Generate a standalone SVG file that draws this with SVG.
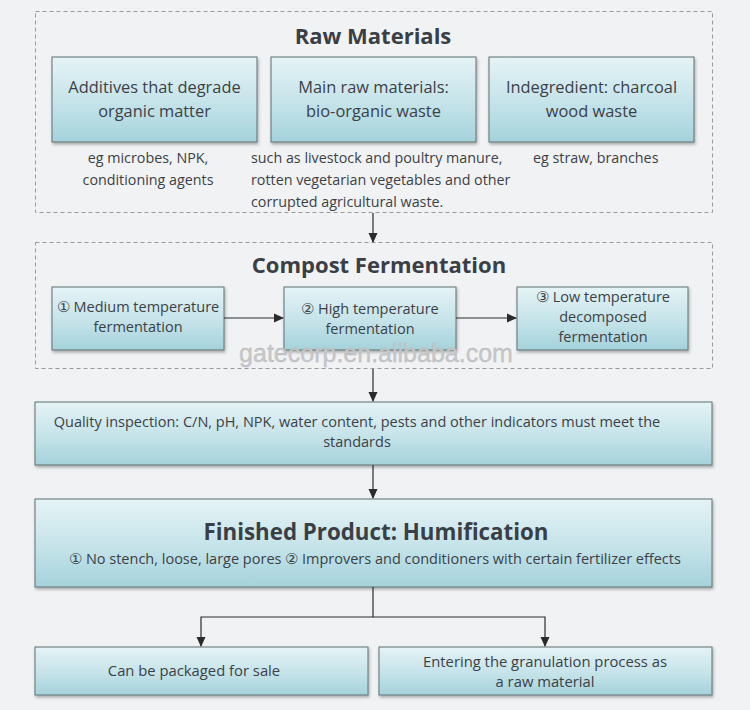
<svg xmlns="http://www.w3.org/2000/svg" width="750" height="710" viewBox="0 0 750 710">
<defs>
  <linearGradient id="boxg" x1="0" y1="0" x2="0" y2="1">
    <stop offset="0" stop-color="#e5f3f6"/>
    <stop offset="0.55" stop-color="#c4e3e9"/>
    <stop offset="1" stop-color="#a5d2db"/>
  </linearGradient>
  <filter id="sh" x="-5%" y="-10%" width="110%" height="130%">
    <feDropShadow dx="1" dy="2" stdDeviation="1.5" flood-color="#000" flood-opacity="0.3"/>
  </filter>
  <marker id="arr" markerWidth="10" markerHeight="10" refX="9" refY="5" orient="auto" markerUnits="userSpaceOnUse">
    <path d="M0,0.5 L10,5 L0,9.5 Z" fill="#2b2b2b"/>
  </marker>
  <style>
    .box { fill: url(#boxg); stroke: #5d7073; stroke-width: 1; filter: url(#sh); }
    .grp { fill: none; stroke: #9a9a9a; stroke-width: 1; stroke-dasharray: 4 3; }
    .title { font-family: "Open Sans", "Noto Sans", sans-serif; font-weight: bold; font-size: 22px; fill: #3a3e45; text-anchor: middle; }
    .t16 { font-family: "Open Sans", "Noto Sans", sans-serif; font-size: 16.4px; fill: #3c4147; text-anchor: middle; }
    .t14 { font-family: "Open Sans", "Noto Sans", sans-serif; font-size: 14.3px; fill: #3c4147; }
    .t15 { font-family: "Open Sans", "Noto Sans", sans-serif; font-size: 14.5px; fill: #3c4147; text-anchor: middle; }
    .t15b { font-size: 14.8px; }
    .c { text-anchor: middle; }
    .wm { font-family: "Liberation Sans", Arial, sans-serif; font-size: 25px; fill: #c6c8ca; stroke: #b4b6b8; stroke-width: 0.3; text-anchor: middle; }
    .line { fill: none; stroke: #2b2b2b; stroke-width: 1.2; }
  </style>
</defs>
<rect x="0" y="0" width="750" height="710" fill="#f1f2f4"/>

<g id="raw-materials">
  <rect class="grp" x="35.5" y="11.5" width="677" height="201"/>
  <text class="title" x="373" y="44">Raw Materials</text>
</g>
<g id="additives">
  <rect class="box" x="52" y="57" width="205" height="85"/>
  <text class="t16" x="154.5" y="93">Additives that degrade</text>
  <text class="t16" x="154.5" y="117">organic matter</text>
  <text class="t14 c" x="148" y="163">eg microbes, NPK,</text>
  <text class="t14 c" x="148" y="185">conditioning agents</text>
</g>
<g id="main-raw">
  <rect class="box" x="271" y="57" width="205" height="85"/>
  <text class="t16" x="373.5" y="93">Main raw materials:</text>
  <text class="t16" x="373.5" y="117">bio-organic waste</text>
  <text class="t14" x="251" y="163">such as livestock and poultry manure,</text>
  <text class="t14" x="251" y="185">rotten vegetarian vegetables and other</text>
  <text class="t14" x="251" y="207">corrupted agricultural waste.</text>
</g>
<g id="indegredient">
  <rect class="box" x="489" y="57" width="205" height="85"/>
  <text class="t16" x="591.5" y="93">Indegredient: charcoal</text>
  <text class="t16" x="591.5" y="117">wood waste</text>
  <text class="t14" x="533" y="163">eg straw, branches</text>
</g>

<g id="compost-fermentation">
  <rect class="grp" x="35.5" y="242.5" width="677" height="126"/>
  <text class="title" x="379" y="273">Compost Fermentation</text>
</g>
<g id="medium-temp">
  <rect class="box" x="52" y="287" width="172" height="63"/>
  <text class="t15" x="138" y="312">① Medium temperature</text>
  <text class="t15" x="138" y="332">fermentation</text>
</g>
<g id="high-temp">
  <rect class="box" x="284" y="287" width="172" height="63"/>
  <text class="t15" x="370" y="314">② High temperature</text>
  <text class="t15" x="370" y="334">fermentation</text>
</g>
<g id="low-temp">
  <rect class="box" x="517" y="287" width="171" height="63"/>
  <text class="t15" x="603" y="302">③ Low temperature</text>
  <text class="t15" x="603" y="322">decomposed</text>
  <text class="t15" x="603" y="342">fermentation</text>
</g>

<g id="quality-inspection">
  <rect class="box" x="35" y="402" width="677" height="63"/>
  <text class="t15" x="357" y="427">Quality inspection: C/N, pH, NPK, water content, pests and other indicators must meet the</text>
  <text class="t15" x="357" y="447">standards</text>
</g>

<g id="finished-product">
  <rect class="box" x="35" y="499" width="677" height="88"/>
  <text class="title" x="376" y="540" style="font-size:22.3px">Finished Product: Humification</text>
  <text class="t15" x="375" y="564">① No stench, loose, large pores ② Improvers and conditioners with certain fertilizer effects</text>
</g>

<g id="packaged">
  <rect class="box" x="35" y="647" width="333" height="48"/>
  <text class="t15 t15b" x="194" y="676">Can be packaged for sale</text>
</g>
<g id="granulation">
  <rect class="box" x="379" y="647" width="333" height="48"/>
  <text class="t15 t15b" x="545" y="667">Entering the granulation process as</text>
  <text class="t15 t15b" x="545" y="687">a raw material</text>
</g>

<g id="connectors">
  <line class="line" x1="373" y1="213" x2="373" y2="242" marker-end="url(#arr)"/>
  <line class="line" x1="224" y1="318" x2="283" y2="318" marker-end="url(#arr)"/>
  <line class="line" x1="456" y1="318" x2="516" y2="318" marker-end="url(#arr)"/>
  <line class="line" x1="373" y1="369" x2="373" y2="401" marker-end="url(#arr)"/>
  <line class="line" x1="373" y1="465" x2="373" y2="498" marker-end="url(#arr)"/>
  <polyline class="line" points="373,587 373,617 201,617 201,646" marker-end="url(#arr)"/>
  <polyline class="line" points="373,617 545,617 545,646" marker-end="url(#arr)"/>
</g>

<g id="watermark">
  <text class="wm" x="376" y="362">gatecorp.en.alibaba.com</text>
</g>
</svg>
